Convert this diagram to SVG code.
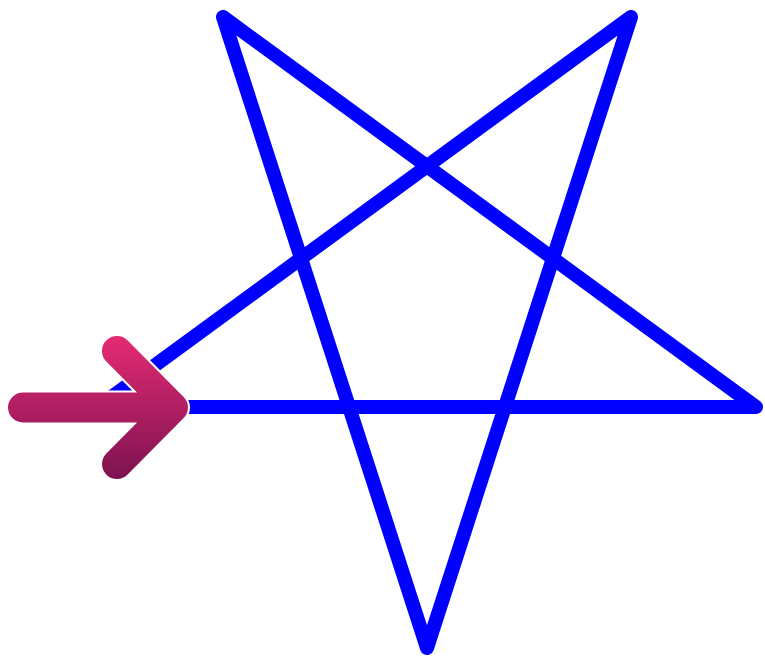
<svg xmlns="http://www.w3.org/2000/svg" width="765" height="657" viewBox="0 0 765 657">
<style>
.star{fill:none;stroke:#0000ff;stroke-width:14;stroke-linejoin:round}
.arrow-outline{fill:none;stroke:#ffffff;stroke-width:34;stroke-linecap:round;stroke-linejoin:round}
.arrow-body{fill:none;stroke:url(#arrowGrad);stroke-width:30;stroke-linecap:round;stroke-linejoin:round}
</style>
<defs>
<linearGradient id="arrowGrad" gradientUnits="userSpaceOnUse" x1="0" y1="335" x2="0" y2="480">
<stop offset="0" stop-color="#e52a74"/>
<stop offset="1" stop-color="#7c1350"/>
</linearGradient>
</defs>
<g id="star">
<path class="star" d="M 98 407 L 756 407 L 223 17 L 427 648 L 631 17 Z"/>
</g>
<g id="arrow">
<path class="arrow-outline" d="M 23 407.5 L 172 407.5 M 117 351 L 173 407.5 L 117 464"/>
<path class="arrow-body" d="M 23 407.5 L 172 407.5 M 117 351 L 173 407.5 L 117 464"/>
</g>
</svg>
